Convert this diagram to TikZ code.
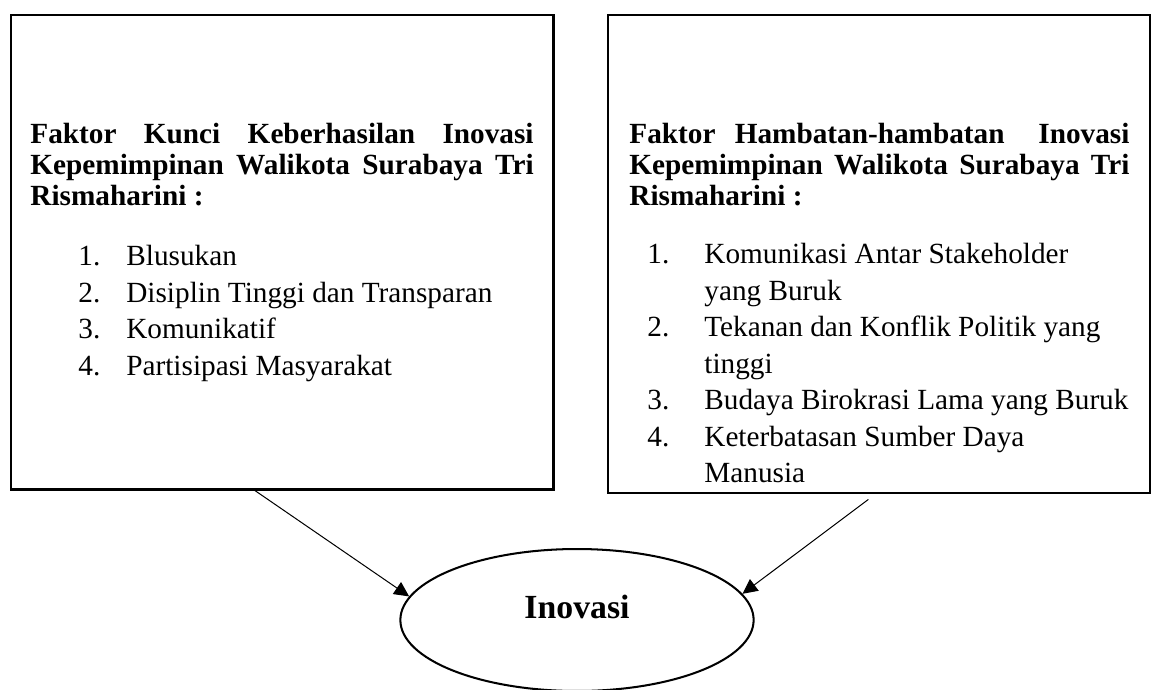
\documentclass[tikz,border=0pt]{standalone}
\usepackage{fontspec}
\setmainfont{Liberation Serif}
\usetikzlibrary{calc,shapes.geometric,arrows.meta}

\tikzstyle{kotak}  = [rectangle, draw, line width=1.1pt, anchor=north west, inner sep=0pt]
\tikzstyle{judul}  = [anchor=north west, inner sep=0pt, align=justify,
                      font=\bfseries\fontsize{13}{13.7}\selectfont]
\tikzstyle{daftar} = [anchor=north west, inner sep=0pt, align=left,
                      font=\fontsize{13}{16.2}\selectfont]
\tikzstyle{oval}   = [ellipse, draw, line width=0.9pt, minimum width=157pt,
                      minimum height=63.1pt, inner sep=0pt]
\tikzstyle{arrow}  = [line width=0.45pt, -{Triangle[length=6.6pt,width=6.4pt]}]
\newcommand{\butir}[3][21.3pt]{\makebox[#1][l]{#2}#3}

\begin{document}
\begin{tikzpicture}[x=0.4444pt, y=-0.4444pt]
    \useasboundingbox (0,0) rectangle (1151,689);

    \node[kotak, minimum width=241.3pt, minimum height=210.9pt] (kunci) at (9.5,13.5) {};
    \node[kotak, minimum width=240.9pt, minimum height=212.4pt] (hambatan) at (607,14) {};

    \node[judul, text width=223.6pt] (judulkunci) at (30,123)
        {Faktor Kunci Keberhasilan Inovasi\linebreak
         Kepemimpinan Walikota Surabaya Tri\linebreak
         Rismaharini :};
    \node[daftar] (daftarkunci) at (78,245)
        {\butir{1.}{Blusukan}\\
         \butir{2.}{Disiplin Tinggi dan Transparan}\\
         \butir{3.}{Komunikatif}\\
         \butir{4.}{Partisipasi Masyarakat}};

    \node[judul, text width=222.2pt] (judulhambatan) at (629,123)
        {Faktor Hambatan-hambatan\hspace{0.5em} Inovasi\linebreak
         Kepemimpinan Walikota Surabaya Tri\linebreak
         Rismaharini :};
    \node[daftar] (daftarhambatan) at (647,243)
        {\butir[25.3pt]{1.}{Komunikasi Antar Stakeholder}\\
         \butir[25.3pt]{}{yang Buruk}\\
         \butir[25.3pt]{2.}{Tekanan dan Konflik Politik yang}\\
         \butir[25.3pt]{}{tinggi}\\
         \butir[25.3pt]{3.}{Budaya Birokrasi Lama yang Buruk}\\
         \butir[25.3pt]{4.}{Keterbatasan Sumber Daya}\\
         \butir[25.3pt]{}{Manusia}};

    \node[oval] (inovasi) at (577,620) {};
    \node[font=\bfseries\fontsize{15}{17}\selectfont] (teksinovasi) at (577,607) {Inovasi};

    \coordinate (ekorkunci) at ($(kunci.south west)!0.45!(kunci.south east)$);
    \coordinate (ekorhambatan) at ($(hambatan.south west)!0.48!(hambatan.south east) + (0,5)$);
    \draw[arrow] (ekorkunci) -- (inovasi.172);
    \draw[arrow] (ekorhambatan) -- (inovasi.9);
\end{tikzpicture}
\end{document}
